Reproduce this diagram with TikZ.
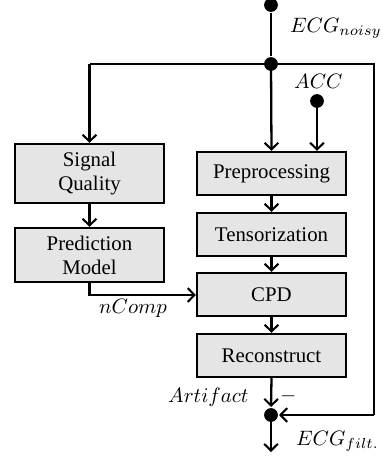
\documentclass[tikz,border=0pt]{standalone}
\usepackage{fontspec}
\setmainfont{Liberation Serif}
\usetikzlibrary{arrows.meta}
\begin{document}
\begin{tikzpicture}[x=0.48pt,y=-0.48pt,
  line width=1.1pt,
  blk/.style={draw,fill=gray!20,line width=1.1pt,inner sep=0pt,align=center,font=\fontsize{10}{11.5}\selectfont},
  arr/.style={-{Straight Barb[length=3.2pt,width=6.6pt,line width=1pt]}},
  dotn/.style={circle,fill=black,inner sep=0pt,minimum size=6.6pt},
  lbl/.style={inner sep=0pt,font=\fontsize{10}{12}\selectfont}]
\useasboundingbox (0,0) rectangle (383,456);
% blocks
\node[blk,minimum width=149*0.48pt,minimum height=59*0.48pt] (sq) at (89.5,173.5) {Signal\\Quality};
\node[blk,minimum width=149*0.48pt,minimum height=54*0.48pt] (pm) at (89.5,255) {Prediction\\Model};
\node[blk,minimum width=149*0.48pt,minimum height=43*0.48pt] (pre) at (271.5,173.5) {Preprocessing};
\node[blk,minimum width=149*0.48pt,minimum height=43*0.48pt] (ten) at (271.5,234.5) {Tensorization};
\node[blk,minimum width=149*0.48pt,minimum height=43*0.48pt] (cpd) at (271.5,294.5) {CPD};
\node[blk,minimum width=149*0.48pt,minimum height=43*0.48pt] (rec) at (271.5,355.5) {Reconstruct};
% dots
\node[dotn] (in) at (271,5) {};
\node[dotn] (j) at (271,64) {};
\node[dotn] (acc) at (317,101) {};
\node[dotn] (sum) at (271,415) {};
\coordinate (out) at (271,452);
\coordinate (lt) at (89.5,64);
\coordinate (rt) at (374,64);
\coordinate (rb) at (374,415);
\coordinate (pmb) at (89.5,295);
% connectors
\draw (in) -- (j);
\draw[arr] (j.center) -- (pre.north);
\draw (j.center) -- (lt);
\draw[arr] (lt) -- (sq.north);
\draw (j.center) -- (rt) -- (rb);
\draw[arr] (rb) -- (sum.east);
\draw[arr] (acc.center) -- (acc.center |- pre.north);
\draw[arr] (sq) -- (pm);
\draw[arr] (pm.south) -- (pmb) -- (pmb -| cpd.west);
\draw[arr] (pre) -- (ten);
\draw[arr] (ten) -- (cpd);
\draw[arr] (cpd) -- (rec);
\draw[arr] (rec.south) -- (sum.north);
\draw[arr] (sum.center) -- (out);
% labels
\node[lbl,anchor=base west] (l1) at (289,32) {$ECG_{noisy}$};
\node[lbl,anchor=base west] (l2) at (293,88) {$ACC$};
\node[lbl,anchor=base west] (l3) at (98,313) {$nComp$};
\node[lbl,anchor=base west] (l4) at (167,402) {$Artifact$};
\node[lbl,anchor=base west] (l5) at (279,401) {$-$};
\node[lbl,anchor=base west] (l6) at (295,445) {$ECG_{filt.}$};
\end{tikzpicture}
\end{document}
